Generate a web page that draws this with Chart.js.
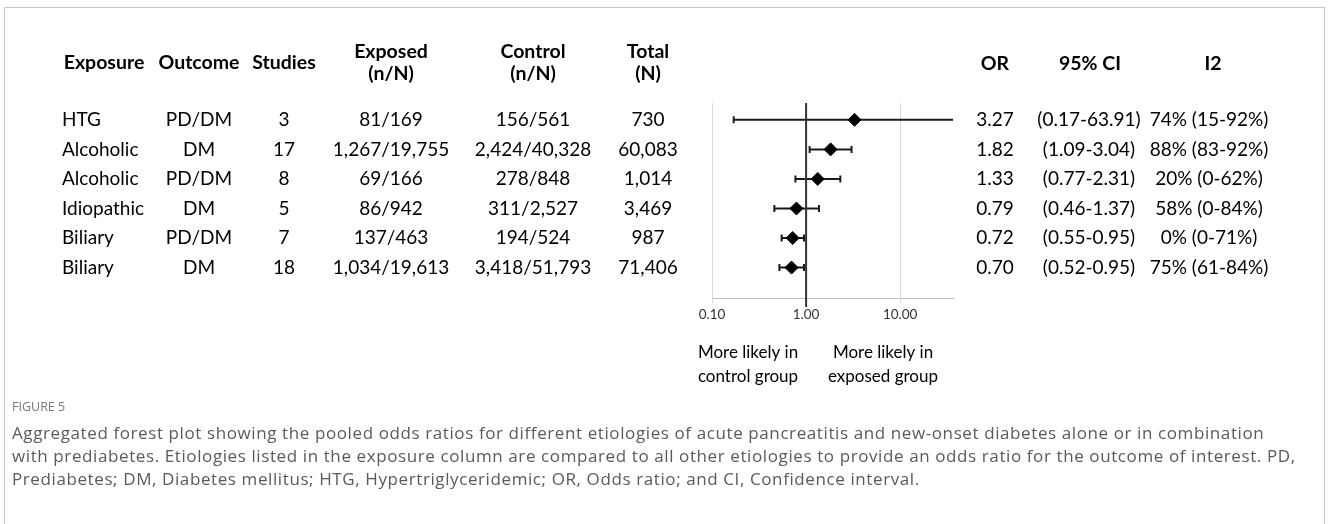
<!DOCTYPE html>
<html>
<head>
<meta charset="utf-8">
<script src="https://cdn.jsdelivr.net/npm/chart.js@4.4.0/dist/chart.umd.min.js"></script>
<style>
  html, body { margin: 0; padding: 0; background: #fff; }
  #wrap { position: relative; width: 1328px; height: 524px; overflow: hidden; }
  #frame { position: absolute; left: 4px; top: 7px; width: 1319px; height: 560px;
           border: 1px solid #c9c9c9; border-bottom: none; }
  #forest { position: absolute; left: 0; top: 0; }
  .cap { position: absolute; left: 12px; white-space: nowrap; font-family: "Open Sans", sans-serif; color: #5a5a5a; }
  #figLabel { top: 398px; font-size: 12.5px; color: #777; }
  #figText { top: 421px; font-size: 17px; line-height: 23px; letter-spacing: 0.6px; }
</style>
</head>
<body>
<div id="wrap">
  <div id="frame"></div>
  <canvas id="forest" width="1328" height="524"></canvas>
  <div class="cap" id="figLabel">FIGURE 5</div>
  <div class="cap" id="figText">Aggregated forest plot showing the pooled odds ratios for different etiologies of acute pancreatitis and new-onset diabetes alone or in combination<br>with prediabetes. Etiologies listed in the exposure column are compared to all other etiologies to provide an odds ratio for the outcome of interest. PD,<br>Prediabetes; DM, Diabetes mellitus; HTG, Hypertriglyceridemic; OR, Odds ratio; and CI, Confidence interval.</div>
</div>
<script>
// --- table columns ---
const exposures = ['HTG', 'Alcoholic', 'Alcoholic', 'Idiopathic', 'Biliary', 'Biliary'];
const outcomes = ['PD/DM', 'DM', 'PD/DM', 'DM', 'PD/DM', 'DM'];
const studies = [3, 17, 8, 5, 7, 18];
const exposedCounts = ['81/169', '1,267/19,755', '69/166', '86/942', '137/463', '1,034/19,613'];
const controlCounts = ['156/561', '2,424/40,328', '278/848', '311/2,527', '194/524', '3,418/51,793'];
const totals = ['730', '60,083', '1,014', '3,469', '987', '71,406'];

// --- pooled estimates ---
const oddsRatios = [3.27, 1.82, 1.33, 0.79, 0.72, 0.70];
const ciLower = [0.17, 1.09, 0.77, 0.46, 0.55, 0.52];
const ciUpper = [63.91, 3.04, 2.31, 1.37, 0.95, 0.95];
const i2Values = ['74% (15-92%)', '88% (83-92%)', '20% (0-62%)', '58% (0-84%)', '0% (0-71%)', '75% (61-84%)'];

// --- axis ---
const xTicks = [0.1, 1, 10];
const xMin = 0.1;
const xMax = 36.4;

const FONT = 'Lato, "Open Sans", sans-serif';

function txt(ctx, s, x, y, align, bold, size) {
    ctx.font = (bold ? 'bold ' : '') + (size || 19) + 'px ' + FONT;
    ctx.textAlign = align;
    ctx.textBaseline = 'middle';
    ctx.fillStyle = '#000';
    ctx.fillText(s, x, y);
}

// error bars + reference line, drawn under the diamonds
const whiskers = {
    id: 'whiskers',
    beforeDatasetsDraw(chart) {
        const { ctx, chartArea: a, scales: { x, y } } = chart;
        ctx.save();
        ctx.strokeStyle = '#1a1a1a';
        ctx.lineWidth = 2;
        oddsRatios.forEach((or, i) => {
            const py = y.getPixelForValue(i);
            const lo = x.getPixelForValue(ciLower[i]);
            const hi = x.getPixelForValue(ciUpper[i]);
            const x0 = Math.max(lo, a.left), x1 = Math.min(hi, a.right);
            ctx.beginPath();
            ctx.moveTo(x0, py); ctx.lineTo(x1, py);
            if (lo >= a.left) { ctx.moveTo(lo, py - 3.5); ctx.lineTo(lo, py + 3.5); }
            if (hi <= a.right) { ctx.moveTo(hi, py - 3.5); ctx.lineTo(hi, py + 3.5); }
            ctx.stroke();
        });
        // line of no effect
        const p1 = x.getPixelForValue(1);
        ctx.strokeStyle = '#333';
        ctx.lineWidth = 2;
        ctx.beginPath();
        ctx.moveTo(p1, a.top); ctx.lineTo(p1, a.bottom + 9);
        ctx.stroke();
        ctx.restore();
    }
};

// table text on both sides of the plot
const tableText = {
    id: 'tableText',
    afterDraw(chart) {
        const { ctx, scales: { y } } = chart;
        ctx.save();
        // headers
        txt(ctx, 'Exposure', 104, 63, 'center', true, 19.5);
        txt(ctx, 'Outcome', 199, 63, 'center', true, 19.5);
        txt(ctx, 'Studies', 284, 63, 'center', true, 19.5);
        txt(ctx, 'Exposed', 391, 52, 'center', true, 19.5);
        txt(ctx, '(n/N)', 391, 74, 'center', true, 19.5);
        txt(ctx, 'Control', 533, 52, 'center', true, 19.5);
        txt(ctx, '(n/N)', 533, 74, 'center', true, 19.5);
        txt(ctx, 'Total', 648, 52, 'center', true, 19.5);
        txt(ctx, '(N)', 648, 74, 'center', true, 19.5);
        txt(ctx, 'OR', 995, 64, 'center', true, 19.5);
        txt(ctx, '95% CI', 1090, 64, 'center', true, 19.5);
        txt(ctx, 'I2', 1213, 64, 'center', true, 19.5);
        // rows
        exposures.forEach((e, i) => {
            const py = y.getPixelForValue(i);
            txt(ctx, e, 62, py, 'left');
            txt(ctx, outcomes[i], 199, py, 'center');
            txt(ctx, String(studies[i]), 284, py, 'center');
            txt(ctx, exposedCounts[i], 391, py, 'center');
            txt(ctx, controlCounts[i], 533, py, 'center');
            txt(ctx, totals[i], 648, py, 'center');
            txt(ctx, oddsRatios[i].toFixed(2), 995, py, 'center');
            txt(ctx, '(' + ciLower[i].toFixed(2) + '-' + ciUpper[i].toFixed(2) + ')', 1089, py, 'center');
            txt(ctx, i2Values[i], 1209, py, 'center');
        });
        // direction labels under the axis
        txt(ctx, 'More likely in', 748, 353, 'center', false, 17);
        txt(ctx, 'control group', 748, 377, 'center', false, 17);
        txt(ctx, 'More likely in', 883, 353, 'center', false, 17);
        txt(ctx, 'exposed group', 883, 377, 'center', false, 17);
        ctx.restore();
    }
};

const ctx = document.getElementById('forest').getContext('2d');
new Chart(ctx, {
    type: 'scatter',
    data: {
        datasets: [{
            data: oddsRatios.map((v, i) => ({ x: v, y: i })),
            pointStyle: 'rectRot',
            pointRadius: 6.5,
            backgroundColor: '#000',
            borderColor: '#000',
            borderWidth: 1
        }]
    },
    options: {
        responsive: false,
        animation: false,
        layout: { padding: { left: 712, right: 375, top: 103, bottom: 196 } },
        plugins: { legend: { display: false }, tooltip: { enabled: false } },
        scales: {
            x: {
                type: 'logarithmic',
                min: xMin,
                max: xMax,
                afterBuildTicks: s => { s.ticks = xTicks.map(v => ({ value: v })); },
                afterFit: s => { s.height = 30; },
                ticks: {
                    callback: v => Number(v).toFixed(2),
                    color: '#333',
                    font: { size: 13.5, family: FONT },
                    padding: 4,
                    maxRotation: 0
                },
                grid: { color: '#d9d9d9', lineWidth: 1, tickLength: 5 },
                border: { color: '#bfbfbf', width: 1 }
            },
            y: {
                type: 'linear',
                min: -0.57,
                max: 6.03,
                reverse: true,
                display: false
            }
        }
    },
    plugins: [whiskers, tableText]
});
</script>
</body>
</html>
